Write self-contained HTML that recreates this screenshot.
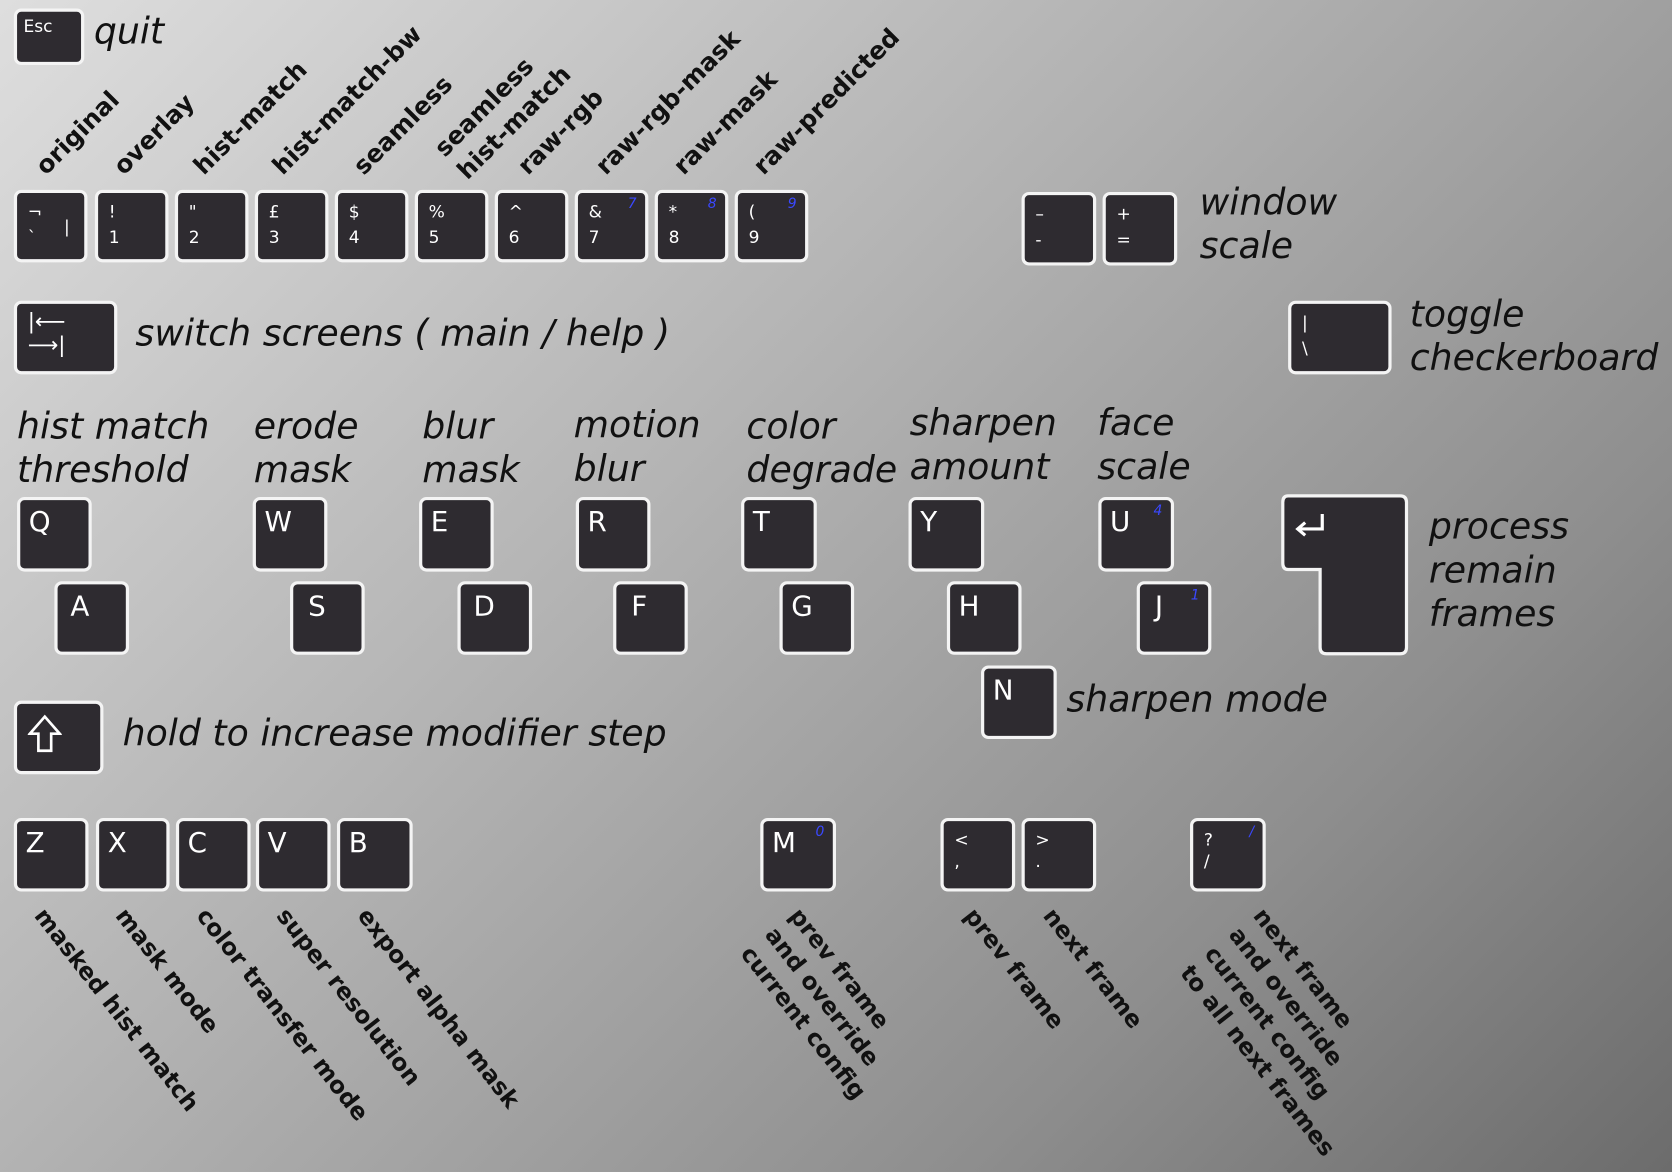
<!DOCTYPE html>
<html><head><meta charset="utf-8">
<style>
html,body{margin:0;padding:0;width:1672px;height:1172px;overflow:hidden;}
#stage{position:absolute;left:0;top:0;width:1568px;height:1099px;transform:scale(1.06633,1.06642);transform-origin:0 0;
background:linear-gradient(135deg,#dedede 0%,#b4b4b4 40%,#8e8e8e 75%,#6c6c6c 100%);font-family:"DejaVu Sans","Liberation Sans",sans-serif;}
.k{position:absolute;box-sizing:border-box;background:#2e2b30;border:3px solid #f4f4f4;border-radius:7px;color:#fff;}
.k .m{position:absolute;left:8px;top:6px;font-size:26px;}
.k .s1{position:absolute;left:10px;top:8px;font-size:16px;}
.k .s2{position:absolute;left:10px;top:32px;font-size:16px;}
.k .b{position:absolute;right:8px;top:3px;font-size:13px;font-style:italic;color:#3a48ff;}
.t{position:absolute;font-style:italic;font-size:34px;color:#111;line-height:41px;white-space:nowrap;}
.r{position:absolute;font-weight:bold;font-size:23px;color:#111;white-space:nowrap;line-height:28px;transform-origin:0 100%;transform:rotate(-45deg);}
.d{position:absolute;font-weight:bold;font-size:22px;color:#111;white-space:nowrap;line-height:29px;transform-origin:0 0;transform:rotate(52deg);}
</style></head><body>
<div id="stage">

<div class="k" style="left:13px;top:8px;width:66px;height:53px"><span class="s1" style="left:6px;top:4px">Esc</span></div>
<div class="t" style="left:88px;top:10px">quit</div>

<div class="k" style="left:13px;top:178px;width:69px;height:68px"><span class="s1">¬</span><span class="s2">`</span><span class="s2" style="left:44px;top:22px">|</span></div>
<div class="k" style="left:89px;top:178px;width:69px;height:68px"><span class="s1">!</span><span class="s2">1</span></div>
<div class="k" style="left:164px;top:178px;width:69px;height:68px"><span class="s1">"</span><span class="s2">2</span></div>
<div class="k" style="left:239px;top:178px;width:69px;height:68px"><span class="s1">£</span><span class="s2">3</span></div>
<div class="k" style="left:314px;top:178px;width:69px;height:68px"><span class="s1">$</span><span class="s2">4</span></div>
<div class="k" style="left:389px;top:178px;width:69px;height:68px"><span class="s1">%</span><span class="s2">5</span></div>
<div class="k" style="left:464px;top:178px;width:69px;height:68px"><span class="s1">^</span><span class="s2">6</span></div>
<div class="k" style="left:539px;top:178px;width:69px;height:68px"><span class="s1">&amp;</span><span class="s2">7</span><span class="b">7</span></div>
<div class="k" style="left:614px;top:178px;width:69px;height:68px"><span class="s1">*</span><span class="s2">8</span><span class="b">8</span></div>
<div class="k" style="left:689px;top:178px;width:69px;height:68px"><span class="s1">(</span><span class="s2">9</span><span class="b">9</span></div>

<div class="r" style="left:48px;top:142px">original</div>
<div class="r" style="left:121px;top:142px">overlay</div>
<div class="r" style="left:196px;top:142px">hist-match</div>
<div class="r" style="left:270px;top:142px">hist-match-bw</div>
<div class="r" style="left:346px;top:142px">seamless</div>
<div class="r" style="left:444px;top:115px;line-height:30px">seamless<br>hist-match</div>
<div class="r" style="left:500px;top:142px">raw-rgb</div>
<div class="r" style="left:573px;top:142px">raw-rgb-mask</div>
<div class="r" style="left:646px;top:142px">raw-mask</div>
<div class="r" style="left:721px;top:142px">raw-predicted</div>

<div class="k" style="left:958px;top:180px;width:70px;height:69px"><span class="s1">–</span><span class="s2">-</span></div>
<div class="k" style="left:1034px;top:180px;width:70px;height:69px"><span class="s1">+</span><span class="s2">=</span></div>
<div class="t" style="left:1125px;top:170px">window<br>scale</div>

<div class="k" style="left:13px;top:282px;width:97px;height:69px"><span class="s1" style="top:4px;font-size:20px">|⟵</span><span class="s2" style="top:26px;font-size:20px">⟶|</span></div>
<div class="t" style="left:127px;top:293px">switch screens ( main / help )</div>

<div class="k" style="left:1208px;top:282px;width:97px;height:69px"><span class="s1">|</span><span class="s2">\</span></div>
<div class="t" style="left:1322px;top:275px">toggle<br>checkerboard</div>

<div class="t" style="left:16px;top:380px">hist match<br>threshold</div>
<div class="t" style="left:238px;top:380px">erode<br>mask</div>
<div class="t" style="left:396px;top:380px">blur<br>mask</div>
<div class="t" style="left:538px;top:379px">motion<br>blur</div>
<div class="t" style="left:700px;top:380px">color<br>degrade</div>
<div class="t" style="left:853px;top:377px">sharpen<br>amount</div>
<div class="t" style="left:1029px;top:377px">face<br>scale</div>

<div class="k" style="left:16px;top:466px;width:70px;height:70px"><span class="m">Q</span></div>
<div class="k" style="left:51px;top:545px;width:70px;height:69px"><span class="m" style="left:12px">A</span></div>
<div class="k" style="left:237px;top:466px;width:70px;height:70px"><span class="m">W</span></div>
<div class="k" style="left:272px;top:545px;width:70px;height:69px"><span class="m" style="left:14px">S</span></div>
<div class="k" style="left:393px;top:466px;width:70px;height:70px"><span class="m">E</span></div>
<div class="k" style="left:429px;top:545px;width:70px;height:69px"><span class="m" style="left:12px">D</span></div>
<div class="k" style="left:540px;top:466px;width:70px;height:70px"><span class="m">R</span></div>
<div class="k" style="left:575px;top:545px;width:70px;height:69px"><span class="m" style="left:14px">F</span></div>
<div class="k" style="left:695px;top:466px;width:71px;height:70px"><span class="m">T</span></div>
<div class="k" style="left:731px;top:545px;width:70px;height:69px"><span class="m">G</span></div>
<div class="k" style="left:852px;top:466px;width:71px;height:70px"><span class="m">Y</span></div>
<div class="k" style="left:888px;top:545px;width:70px;height:69px"><span class="m">H</span></div>
<div class="k" style="left:1030px;top:466px;width:71px;height:70px"><span class="m">U</span><span class="b">4</span></div>
<div class="k" style="left:1066px;top:545px;width:70px;height:69px"><span class="m" style="left:14px">J</span><span class="b">1</span></div>

<svg style="position:absolute;left:1200px;top:462px" width="124" height="156">
<path d="M8 3 H113 Q119 3 119 9 V145 Q119 151 113 151 H44 Q38 151 38 145 V72 H8 Q3 72 3 66 V9 Q3 3 8 3 Z" fill="#2e2b30" stroke="#f4f4f4" stroke-width="3"/>
<path d="M40 20 V34 H18 M24 28 L17 34 L24 40" fill="none" stroke="#fff" stroke-width="3"/>
</svg>
<div class="t" style="left:1340px;top:474px">process<br>remain<br>frames</div>

<div class="k" style="left:920px;top:624px;width:71px;height:69px"><span class="m">N</span></div>
<div class="t" style="left:1000px;top:636px">sharpen mode</div>

<div class="k" style="left:13px;top:657px;width:84px;height:69px">
<svg style="position:absolute;left:10px;top:10px" width="32" height="38"><path d="M16 2 L30 18 H22 V34 H10 V18 H2 Z" fill="none" stroke="#fff" stroke-width="2.5"/></svg></div>
<div class="t" style="left:115px;top:668px">hold to increase modifier step</div>

<div class="k" style="left:13px;top:767px;width:70px;height:69px"><span class="m">Z</span></div>
<div class="k" style="left:90px;top:767px;width:69px;height:69px"><span class="m">X</span></div>
<div class="k" style="left:165px;top:767px;width:70px;height:69px"><span class="m">C</span></div>
<div class="k" style="left:240px;top:767px;width:70px;height:69px"><span class="m">V</span></div>
<div class="k" style="left:316px;top:767px;width:71px;height:69px"><span class="m">B</span></div>
<div class="k" style="left:713px;top:767px;width:71px;height:69px"><span class="m">M</span><span class="b">0</span></div>
<div class="k" style="left:882px;top:767px;width:70px;height:69px"><span class="s1">&lt;</span><span class="s2" style="top:28px">,</span></div>
<div class="k" style="left:958px;top:767px;width:70px;height:69px"><span class="s1">&gt;</span><span class="s2" style="top:28px">.</span></div>
<div class="k" style="left:1116px;top:767px;width:71px;height:69px"><span class="s1">?</span><span class="s2" style="top:28px">/</span><span class="b">/</span></div>

<div class="d" style="left:48px;top:846px">masked hist match</div>
<div class="d" style="left:124px;top:846px">mask mode</div>
<div class="d" style="left:200px;top:846px">color transfer mode</div>
<div class="d" style="left:275px;top:846px">super resolution</div>
<div class="d" style="left:351px;top:846px">export alpha mask</div>
<div class="d" style="left:756px;top:846px">prev frame<br>and override<br>current config</div>
<div class="d" style="left:920px;top:846px">prev frame</div>
<div class="d" style="left:994px;top:846px">next frame</div>
<div class="d" style="left:1191px;top:846px">next frame<br>and override<br>current config<br>to all next frames</div>

</div>
</body></html>
